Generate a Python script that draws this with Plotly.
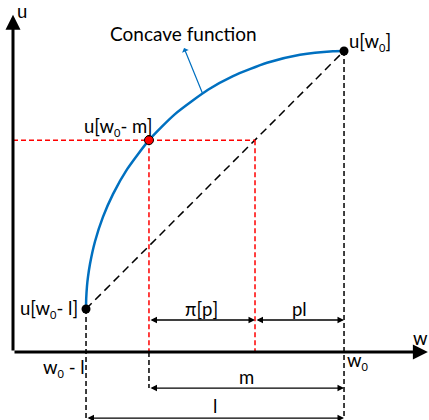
import plotly.graph_objects as go

# ---- data (in chart units) ----
w0 = 12.83          # initial wealth
loss = 10.0         # l
m = 7.56            # max payment
p = 0.345           # loss probability
u_low = 1.667       # u[w0 - l]
u_high = 11.667     # u[w0]
u_m = 8.21          # u[w0 - m]

curve_w = [2.829, 2.837, 2.868, 2.907, 2.984, 3.178, 3.488, 3.876, 4.419, 5.271,
           6.279, 7.558, 8.527, 9.845, 11.124, 12.403, 12.829]
curve_u = [1.667, 2.062, 2.558, 2.911, 3.411, 4.283, 5.236, 6.120, 7.078, 8.213,
           9.221, 10.163, 10.694, 11.209, 11.519, 11.659, 11.667]

# derived
w_low = w0 - loss
w_m = w0 - m
pl = p * loss
w_ce = w0 - pl        # where the chord reaches u[w0-m]

# ---- layout constants ----
FONT = "Lato"
FS = 18.5
BLUE = "#0070C0"
RED = "#FF0000"
y_arrow1 = 1.24
y_arrow2 = -1.40
y_arrow3 = -2.56
X_RANGE = [-0.504, 16.124]
Y_RANGE = [-2.636, 13.643]
W0 = "w<sub><span style='font-size:11px'>0</span></sub>"

fig = go.Figure()

def line(xs, ys, color, width, dash):
    fig.add_trace(go.Scatter(x=xs, y=ys, mode="lines",
                             line=dict(color=color, width=width, dash=dash),
                             hoverinfo="skip", showlegend=False))

# chord
line([w_low, w0], [u_low, u_high], "black", 1.5, "8px,5px")
# black verticals
line([w_low, w_low], [u_low, y_arrow3], "black", 1.5, "5px,3px")
line([w0, w0], [u_high, y_arrow3], "black", 1.5, "5px,3px")
line([w_m, w_m], [0, y_arrow2], "black", 1.5, "5px,3px")
# red guides
line([0, w_ce], [u_m, u_m], RED, 1.5, "5px,3px")
line([w_m, w_m], [u_m, 0], RED, 1.5, "5px,3px")
line([w_ce, w_ce], [u_m, 0], RED, 1.5, "5px,3px")

# utility curve
fig.add_trace(go.Scatter(x=curve_w, y=curve_u, mode="lines",
                         line=dict(color=BLUE, width=2.5, shape="spline", smoothing=0.6),
                         hoverinfo="skip", showlegend=False))

# points
fig.add_trace(go.Scatter(x=[w_low, w0], y=[u_low, u_high], mode="markers",
                         marker=dict(color="black", size=9), hoverinfo="skip", showlegend=False))
fig.add_trace(go.Scatter(x=[w_m], y=[u_m], mode="markers",
                         marker=dict(color=RED, size=9, line=dict(color="black", width=1)),
                         hoverinfo="skip", showlegend=False))

ann = []

def arrow(x, y, ax, ay, width=1.3, head=2, size=1.0, both=False, color="black"):
    d = dict(x=x, y=y, ax=ax, ay=ay, xref="x", yref="y", axref="x", ayref="y",
             text="", showarrow=True, arrowhead=head, arrowsize=size,
             arrowwidth=width, arrowcolor=color, standoff=0, startstandoff=0)
    if both:
        d.update(arrowside="end+start", startarrowhead=head, startarrowsize=size)
    ann.append(d)

# axes
arrow(16.08, 0, 0, 0, width=3, head=2, size=1.0)
arrow(0, 13.07, 0, 0, width=3, head=2, size=1.0)

# measurement arrows
arrow(w_ce, y_arrow1, w_m, y_arrow1, both=True)
arrow(w0, y_arrow1, w_ce, y_arrow1, both=True)
arrow(w0, y_arrow2, w_m, y_arrow2, both=True)
arrow(w0, y_arrow3, w_low, y_arrow3, both=True)

# concave function pointer
arrow(6.63, 11.78, 7.36, 9.99, width=1.2, head=1, size=1.0, color=BLUE)

def text(x, y, s, size=FS, xanchor="center"):
    ann.append(dict(x=x, y=y, xref="x", yref="y", text=s, showarrow=False,
                    xanchor=xanchor, yanchor="middle",
                    font=dict(family=FONT, size=size, color="black")))

text(0.35, 13.2, "u")
text(15.8, 0.55, "w")
text(6.6, 12.35, "Concave function", size=19)
text(w0 + 1.0, u_high + 0.35, "u[" + W0 + "]")
text(w_m - 1.2, u_m + 0.5, "u[" + W0 + "- m]")
text(w_low - 1.45, u_low, "u[" + W0 + "- l]")
text(w_low - 0.85, -0.62, W0 + " - l")
text(w0 + 0.55, -0.33, W0)
text((w_m + w_ce) / 2, y_arrow1 + 0.42, "π[p]")
text((w_ce + w0) / 2, y_arrow1 + 0.42, "pl")
text((w_m + w0) / 2, y_arrow2 + 0.45, "m")
text((w_low + w0) / 2, y_arrow3 + 0.45, "l")

fig.update_layout(
    width=429, height=420, margin=dict(l=0, r=0, t=0, b=0),
    paper_bgcolor="white", plot_bgcolor="white",
    xaxis=dict(range=X_RANGE, visible=False, fixedrange=True),
    yaxis=dict(range=Y_RANGE, visible=False, fixedrange=True),
    annotations=ann, showlegend=False,
)

fig.write_html("out.html", config={"displayModeBar": False},
               post_script="document.body.style.margin='0';document.body.style.overflow='hidden';")
